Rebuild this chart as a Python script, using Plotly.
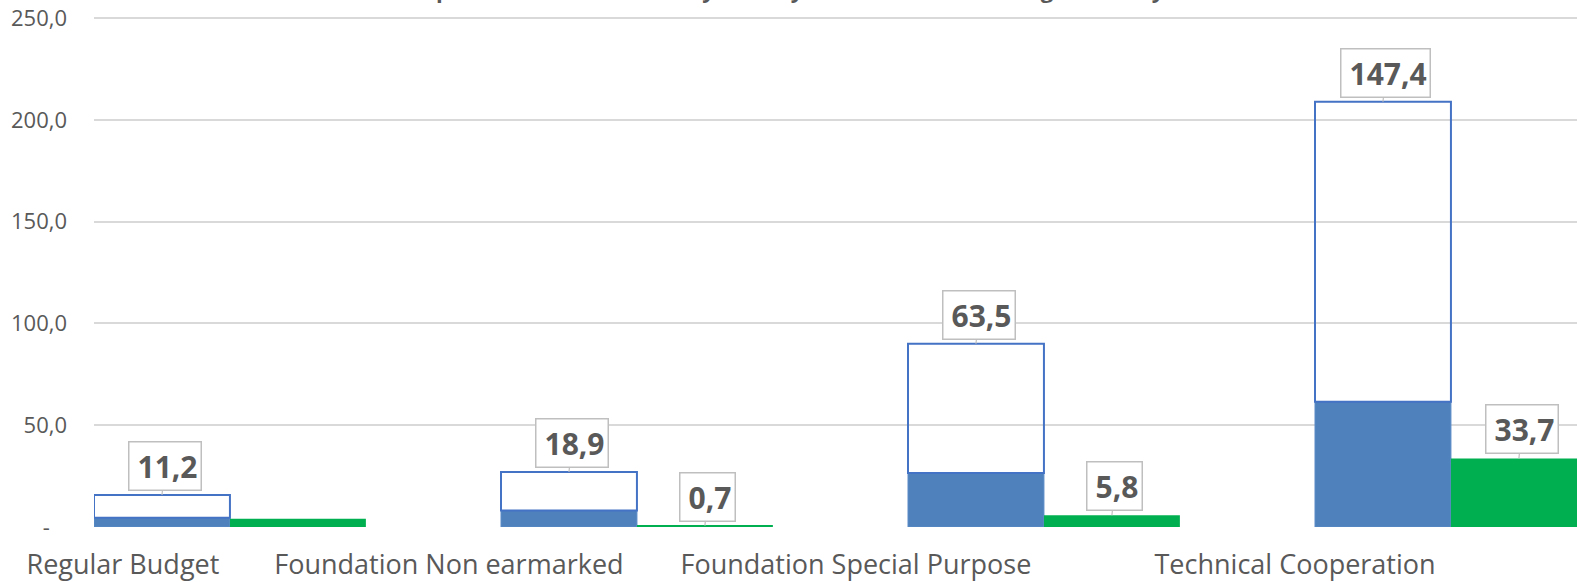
import plotly.graph_objects as go

# ---- data ----
categories = ["Regular Budget", "Foundation Non earmarked", "Foundation Special Purpose", "Technical Cooperation"]
blue_values = [4.5, 8.1, 26.5, 61.5]        # filled blue segment
white_values = [11.2, 18.9, 63.5, 147.4]    # outlined segment stacked on top (labelled)
green_values = [4.1, 0.7, 5.8, 33.7]        # green bar
green_labels = [None, "0,7", "5,8", "33,7"]
white_labels = ["11,2", "18,9", "63,5", "147,4"]
y_ticks = [0, 50, 100, 150, 200, 250]
y_tick_text = ["-\u00a0\u00a0\u00a0", "50,0", "100,0", "150,0", "200,0", "250,0"]
title_text = "Expenditure and Release by Priority and Source of Funding Summary"

# ---- layout constants ----
BAR_W = 0.334
LABEL_SHIFT = [0.071, -0.128, -0.128, -0.049]
GREY_TXT = "#595959"
FONT = "Open Sans"

xs = list(range(len(categories)))

fig = go.Figure()
fig.add_trace(go.Bar(x=xs, y=blue_values, width=BAR_W, offset=0,
                     marker=dict(color="#4F81BD", line=dict(color="#5B8BC6", width=1)),
                     showlegend=False, hoverinfo="skip"))
fig.add_trace(go.Bar(x=xs, y=white_values, base=blue_values, width=BAR_W, offset=0,
                     marker=dict(color="rgba(255,255,255,0)", line=dict(color="#4472C4", width=2)),
                     showlegend=False, hoverinfo="skip"))
fig.add_trace(go.Bar(x=xs, y=green_values, width=BAR_W, offset=BAR_W,
                     marker=dict(color="#00B050", line=dict(width=0)),
                     showlegend=False, hoverinfo="skip"))

ann = []
def label(x, y, text):
    ann.append(dict(x=x, y=y, xref="x", yref="y", text=f"<b>\u2009{text}</b>",
                    showarrow=True, arrowhead=0, arrowwidth=1.2, arrowcolor="#BFBFBF",
                    ax=3, ay=-29, standoff=0,
                    bordercolor="#BFBFBF", borderwidth=1.5, borderpad=3, bgcolor="white",
                    font=dict(family=FONT, size=30, color=GREY_TXT)))

for i in xs:
    label(i + BAR_W / 2, blue_values[i] + white_values[i], white_labels[i])
    if green_labels[i]:
        label(i + BAR_W * 1.5, green_values[i], green_labels[i])

# title (cut off by the top edge in the reference)
ann.append(dict(x=0.468, y=1, xref="paper", yref="paper", xanchor="center", yanchor="bottom",
                yshift=10, showarrow=False, text=f"<b>{title_text}</b>",
                font=dict(family=FONT, size=22, color=GREY_TXT)))

fig.update_layout(
    width=1577, height=582,
    margin=dict(l=94, r=0, t=16, b=55, autoexpand=False),
    paper_bgcolor="white", plot_bgcolor="white",
    barmode="overlay",
    annotations=ann,
    xaxis=dict(range=[0, 1483 / 407], showgrid=False, zeroline=False, showline=False,
               automargin=False,
               tickvals=[i + s for i, s in zip(xs, LABEL_SHIFT)], ticktext=categories,
               ticks="", ticklabelstandoff=19,
               tickfont=dict(family=FONT, size=27, color=GREY_TXT)),
    yaxis=dict(range=[0, 251], tickvals=y_ticks, ticktext=y_tick_text,
               showgrid=True, gridcolor="#D9D9D9", gridwidth=1.5, zeroline=False,
               showline=False, ticks="", ticklabelstandoff=26, automargin=False,
               tickfont=dict(family=FONT, size=22, color=GREY_TXT)),
)

fig.write_html("out.html", config={"displayModeBar": False},
               post_script="document.body.style.margin='0';")
